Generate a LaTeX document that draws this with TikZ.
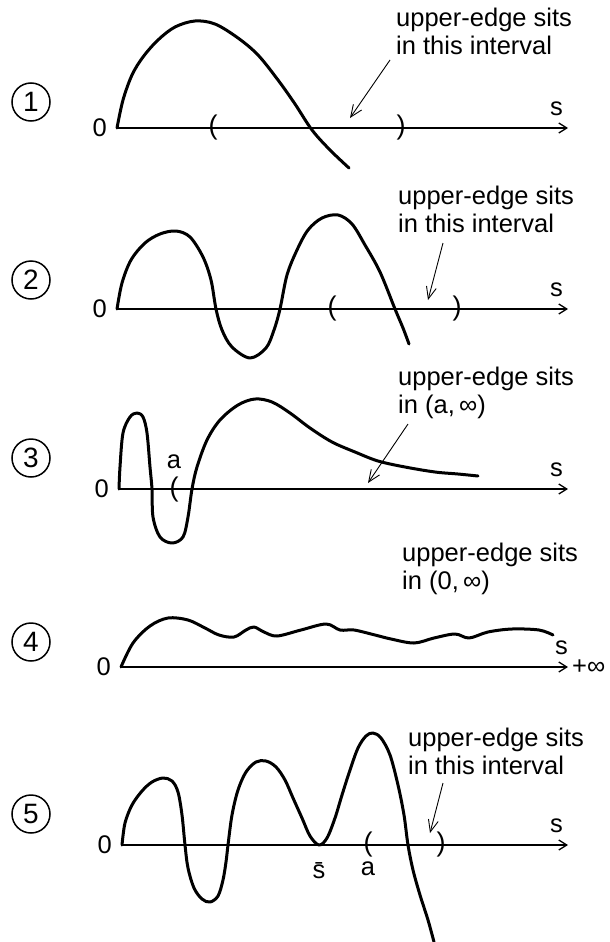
\documentclass[tikz,border=0pt]{standalone}
\usepackage{fontspec}
\setmainfont{Liberation Sans}
\usetikzlibrary{arrows.meta, positioning}

\tikzset{
  txt/.style={font=\fontsize{25.5}{28}\selectfont, inner sep=0pt},
  brk/.style={font=\fontsize{27}{29}\selectfont, inner sep=0pt},
  num/.style={draw, circle, line width=1.5pt, minimum size=38pt, inner sep=0pt,
    font=\fontsize{28}{30}\selectfont},
  axis/.style={line width=1.3pt, -{Straight Barb[length=8pt,width=10pt]}},
  graph/.style={line width=3pt, line join=round, line cap=round},
  pointer/.style={line width=0.9pt, -{Straight Barb[length=12pt,width=10pt]}},
}

\begin{document}
\begin{tikzpicture}[x=1pt, y=-1pt]
    \useasboundingbox (0,0) rectangle (610,942);

    % panel 1
    \coordinate (o1) at (117,128);
    \coordinate (e1) at (568,128);
    \node[num] (c1) at (31,102) {1};
    \node[txt, left=10pt of o1] (z1) {0};
    \node[txt, above left=12pt and 5pt of e1] (s1) {s};
    \node[brk] (l1) at (213,128) {(};
    \node[brk] (r1) at (401,128) {)};
    \node[txt, anchor=north west, align=left] (t1) at (396,8) {upper-edge sits\\in this interval};
    \coordinate (q1) at (390,60);
    \coordinate (p1) at (350,118);
    \draw[axis] (o1) -- (e1);
    \draw[graph] plot[smooth, tension=0.55] coordinates {(117,128) (123,100) (132,75)
      (143,57) (158,40) (175,27) (195,21) (215,24) (238,38) (258,55) (278,80)
      (295,104) (312,130) (330,150) (349,168)};
    \draw[pointer] (q1) -- (p1);

    % panel 2
    \coordinate (o2) at (117,309);
    \coordinate (e2) at (568,309);
    \node[num] (c2) at (31,280) {2};
    \node[txt, left=10pt of o2] (z2) {0};
    \node[txt, above left=12pt and 5pt of e2] (s2) {s};
    \node[brk] (l2) at (332,309) {(};
    \node[brk] (r2) at (457,309) {)};
    \node[txt, anchor=north west, align=left] (t2) at (398,186) {upper-edge sits\\in this interval};
    \coordinate (q2) at (443,243);
    \coordinate (p2) at (428,300);
    \draw[axis] (o2) -- (e2);
    \draw[graph] plot[smooth, tension=0.55] coordinates {(117,309) (122,283) (131,260)
      (145,243) (160,234) (176,231) (190,237) (203,257) (211,280) (216,309) (222,330)
      (232,347) (250,358) (266,348) (274,330) (280,309) (287,275) (297,250) (308,230)
      (322,218) (338,215) (352,224) (365,245) (380,272) (395,309) (403,328) (409,344)};
    \draw[pointer] (q2) -- (p2);

    % panel 3
    \coordinate (o3) at (119,489);
    \coordinate (e3) at (568,489);
    \node[num] (c3) at (31,458) {3};
    \node[txt, left=10pt of o3] (z3) {0};
    \node[txt, above left=12pt and 5pt of e3] (s3) {s};
    \node[brk] (l3) at (174,490) {(};
    \node[txt, above=8pt of l3] (a3) {a};
    \node[txt, anchor=north west, align=left] (t3) at (398,367) {upper-edge sits\\in (a,\,∞)};
    \coordinate (q3) at (408,424);
    \coordinate (p3) at (368,483);
    \draw[axis] (o3) -- (e3);
    \draw[graph] plot[smooth, tension=0.55] coordinates {(119,489) (120,467) (123,433)
      (130,417) (137,413) (143,417) (147,433) (150,467) (152,489) (153,517) (160,537)
      (172,543) (183,537) (188,517) (192,489) (197,467) (207,440) (220,420) (238,405)
      (255,399) (272,402) (290,413) (310,428) (332,442) (355,452) (378,461) (405,467)
      (435,472) (458,474) (478,476)};
    \draw[pointer] (q3) -- (p3);

    % panel 4
    \coordinate (o4) at (121,667);
    \coordinate (e4) at (568,667);
    \node[num] (c4) at (31,642) {4};
    \node[txt, left=10pt of o4] (z4) {0};
    \node[txt, above left=12pt and 0pt of e4] (s4) {s};
    \node[txt, right=4pt of e4] (inf4) {+∞};
    \node[txt, anchor=north west, align=left] (t4) at (402,543) {upper-edge sits\\in (0,\,∞)};
    \draw[axis] (o4) -- (e4);
    \draw[graph] plot[smooth, tension=0.55] coordinates {(121,667) (133,643) (150,626)
      (168,618) (188,620) (205,628) (219,635) (234,637) (246,630) (254,627) (264,632)
      (277,636) (301,630) (326,624) (340,630) (354,630) (375,635) (391,639) (414,643)
      (434,638) (455,634) (469,638) (488,632) (512,629) (539,630) (553,635)};

    % panel 5
    \coordinate (o5) at (122,845);
    \coordinate (e5) at (568,845);
    \node[num] (c5) at (31,814) {5};
    \node[txt, left=10pt of o5] (z5) {0};
    \node[txt, above left=12pt and 5pt of e5] (s5) {s};
    \coordinate (m5) at (319,845);
    \node[txt, below=17pt of m5] (b5) {\=s};
    \node[brk] (l5) at (368,845) {(};
    \node[brk] (r5) at (441,845) {)};
    \node[txt, below=17pt of l5.center] (a5) {a};
    \node[txt, anchor=north west, align=left] (t5) at (408,728) {upper-edge sits\\in this interval};
    \coordinate (q5) at (443,783);
    \coordinate (p5) at (430,833);
    \draw[axis] (o5) -- (e5);
    \draw[graph] plot[smooth, tension=0.55] coordinates {(122,845) (125,823) (132,805)
      (142,791) (152,782) (163,778) (172,781) (178,792) (182,815) (185,845) (188,868)
      (194,888) (202,899) (210,902) (218,896) (223,880) (226,862) (228,845) (232,815)
      (238,790) (246,772) (256,762) (266,761) (276,767) (285,780) (293,798) (302,818)
      (310,836) (319,845) (327,838) (335,818) (342,795) (350,770) (358,748) (366,736)
      (373,733) (381,738) (390,755) (398,785) (404,815) (408,845) (413,870) (420,895)
      (428,920) (434,942)};
    \draw[pointer] (q5) -- (p5);
\end{tikzpicture}
\end{document}
